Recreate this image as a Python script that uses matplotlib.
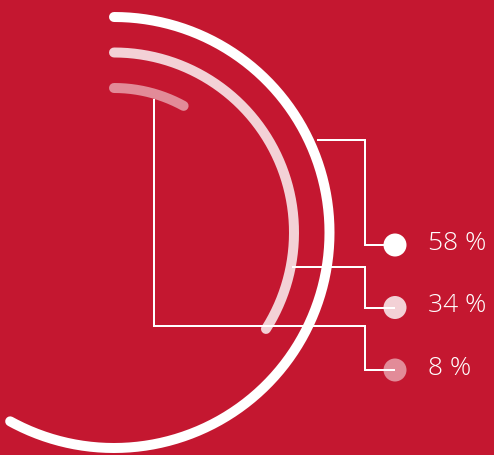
import numpy as np
import matplotlib
matplotlib.use("Agg")
import matplotlib.pyplot as plt
from matplotlib.patches import Circle

# Shares shown as concentric arcs, outermost first
shares = [58, 34, 8]
labels = ["58 %", "34 %", "8 %"]
opacity = [1.0, 0.8, 0.5]

BG = "#C41730"
W, H = 494, 455

fig = plt.figure(figsize=(W / 100, H / 100), dpi=100)
fig.patch.set_facecolor(BG)
ax = fig.add_axes([0, 0, 1, 1])
ax.set_facecolor(BG)
ax.set_xlim(0, W)
ax.set_ylim(H, 0)
ax.set_aspect("equal")
ax.axis("off")

# Arc geometry (pixel space, y downwards)
cx, cy = 114.0, 232.5
radii = [215.5, 180.0, 144.5]
arc_lw = 10 * 72 / 100


def blend(a):
    bg = np.array(matplotlib.colors.to_rgb(BG))
    return tuple(bg * (1 - a) + np.ones(3) * a)


for share, r, a in zip(shares, radii, opacity):
    sweep = share / 100 * 2 * np.pi
    t = np.linspace(np.pi / 2, np.pi / 2 - sweep, 400)
    ax.plot(cx + r * np.cos(t), cy - r * np.sin(t), color=blend(a),
            lw=arc_lw, solid_capstyle="round", zorder=2)

# Leader lines from each arc to its marker
leaders = [
    [(317, 139.5), (365, 139.5), (365, 245), (395, 245)],
    [(292, 266.5), (365, 266.5), (365, 307.5), (395, 307.5)],
    [(154, 99), (154, 325.5), (365, 325.5), (365, 370), (395, 370)],
]
line_lw = 2 * 72 / 100
for path, a, lab in zip(leaders, opacity, labels):
    xs, ys = zip(*path)
    ax.plot(xs, ys, color="white", lw=line_lw, solid_joinstyle="miter",
            solid_capstyle="butt", zorder=4)
    end = path[-1]
    ax.add_patch(Circle(end, 11.5, facecolor=blend(a), edgecolor="none",
                        zorder=3 if a < 1 else 5))
    ax.text(428, end[1] - 1.5, lab, color="white", fontsize=19,
            family="Open Sans", fontweight="light", va="center", ha="left",
            zorder=6)

fig.savefig("out.png", dpi=100, facecolor=BG)
